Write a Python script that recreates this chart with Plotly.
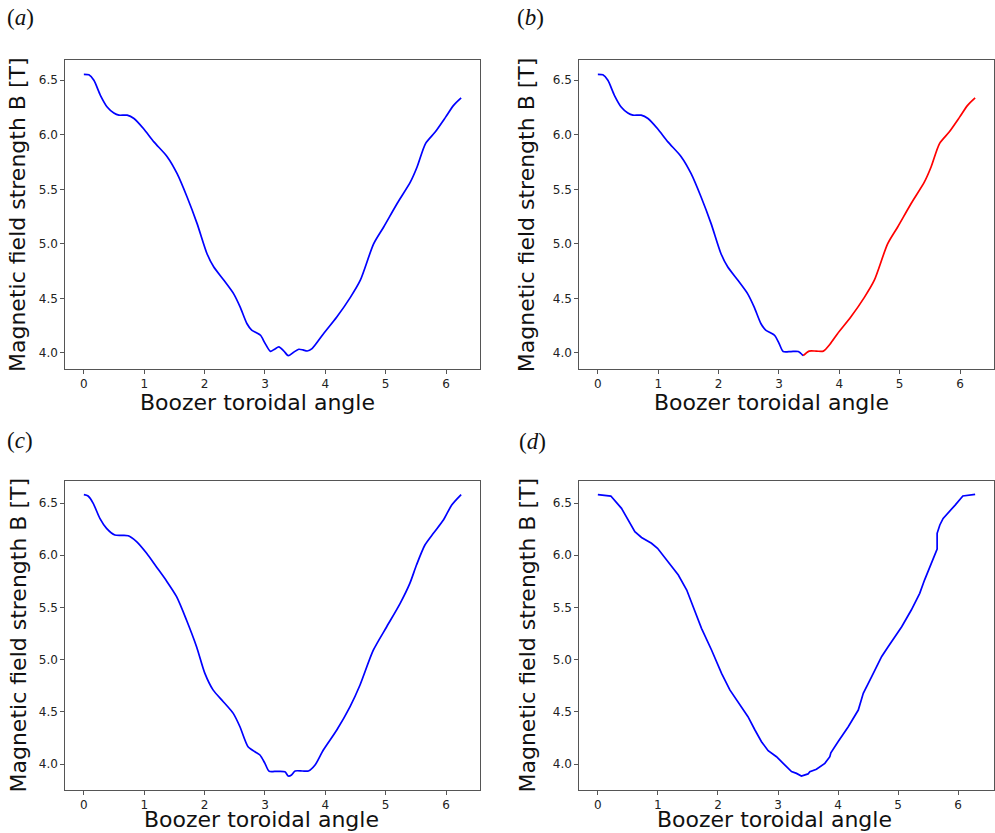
import plotly.graph_objects as go

# ---------------- data ----------------
# (a)
a_x = [0, 0.083, 0.166, 0.276, 0.386, 0.497, 0.58, 0.717, 0.83, 0.99, 1.16, 1.38,
       1.545, 1.71, 1.876, 2.04, 2.15, 2.32, 2.48, 2.59, 2.70, 2.78, 2.86, 2.93,
       3.0, 3.09, 3.16, 3.23, 3.31, 3.386, 3.47, 3.56, 3.63, 3.70, 3.78, 3.97,
       4.19, 4.415, 4.58, 4.80, 4.967, 5.19, 5.41, 5.52, 5.66, 5.82, 5.99, 6.125, 6.25]
a_y = [6.555, 6.55, 6.50, 6.36, 6.255, 6.20, 6.18, 6.18, 6.15, 6.056, 5.935, 5.80,
       5.644, 5.43, 5.186, 4.91, 4.79, 4.666, 4.544, 4.42, 4.27, 4.21, 4.185, 4.16,
       4.09, 4.015, 4.035, 4.055, 4.02, 3.975, 4.005, 4.034, 4.028, 4.018, 4.04, 4.177,
       4.33, 4.51, 4.667, 5.0, 5.155, 5.37, 5.568, 5.705, 5.92, 6.026, 6.16, 6.27, 6.338]

# (b) blue part and red part
b_blue_x = [0, 0.083, 0.166, 0.276, 0.386, 0.497, 0.58, 0.717, 0.83, 0.99, 1.16, 1.38,
            1.545, 1.71, 1.876, 2.04, 2.15, 2.32, 2.48, 2.59, 2.70, 2.78, 2.86, 2.93,
            3.0, 3.07, 3.20, 3.32, 3.40]
b_blue_y = [6.555, 6.55, 6.50, 6.36, 6.255, 6.20, 6.18, 6.18, 6.15, 6.056, 5.935, 5.80,
            5.644, 5.43, 5.186, 4.91, 4.79, 4.666, 4.544, 4.42, 4.27, 4.21, 4.185, 4.16,
            4.09, 4.013, 4.013, 4.013, 3.975]
b_red_x = [3.40, 3.50, 3.62, 3.735, 3.845, 3.97, 4.19, 4.415, 4.58, 4.80, 4.967, 5.19,
           5.41, 5.52, 5.66, 5.82, 5.99, 6.125, 6.25]
b_red_y = [3.975, 4.017, 4.017, 4.017, 4.08, 4.177, 4.33, 4.51, 4.667, 5.0, 5.155, 5.37,
           5.568, 5.705, 5.92, 6.026, 6.16, 6.27, 6.338]

# (c)
c_x = [0, 0.07, 0.155, 0.265, 0.376, 0.514, 0.735, 0.873, 1.04, 1.20, 1.37, 1.536,
       1.70, 1.867, 2.005, 2.14, 2.31, 2.475, 2.586, 2.72, 2.834, 2.917, 3.0, 3.07,
       3.20, 3.33, 3.386, 3.44, 3.50, 3.62, 3.72, 3.83, 3.967, 4.19, 4.41, 4.575,
       4.795, 5.017, 5.24, 5.40, 5.51, 5.65, 5.79, 5.956, 6.094, 6.25]
c_y = [6.58, 6.567, 6.497, 6.353, 6.257, 6.193, 6.187, 6.13, 6.018, 5.89, 5.753, 5.603,
       5.38, 5.124, 4.868, 4.71, 4.597, 4.485, 4.357, 4.166, 4.118, 4.086, 4.006, 3.93,
       3.93, 3.926, 3.885, 3.895, 3.933, 3.933, 3.933, 3.99, 4.134, 4.326, 4.55, 4.757,
       5.09, 5.315, 5.539, 5.73, 5.906, 6.098, 6.21, 6.337, 6.48, 6.58]

# (d)
d_x = [0, 0.216, 0.394, 0.616, 0.727, 0.893, 0.994, 1.17, 1.34, 1.48, 1.615, 1.726,
       1.893, 2.06, 2.198, 2.393, 2.50, 2.616, 2.725, 2.836, 2.975, 3.086, 3.225, 3.308,
       3.39, 3.50, 3.53, 3.64, 3.78, 3.863, 3.88, 4.0, 4.17, 4.337, 4.42, 4.56, 4.727,
       4.834, 5.06, 5.22, 5.36, 5.44, 5.556, 5.64, 5.65, 5.65, 5.695, 5.75, 5.83, 5.95,
       6.078, 6.283]
d_y = [6.58, 6.567, 6.449, 6.225, 6.17, 6.114, 6.066, 5.938, 5.81, 5.667, 5.459, 5.30,
       5.092, 4.868, 4.71, 4.55, 4.453, 4.326, 4.214, 4.128, 4.07, 4.006, 3.927, 3.91,
       3.885, 3.905, 3.927, 3.95, 4.006, 4.07, 4.108, 4.214, 4.357, 4.517, 4.677, 4.837, 5.03,
       5.124, 5.315, 5.475, 5.635, 5.762, 5.922, 6.04, 6.06, 6.21, 6.29, 6.353, 6.40, 6.48,
       6.567, 6.583]

x_ticks = [0, 1, 2, 3, 4, 5, 6]
y_ticks = [4.0, 4.5, 5.0, 5.5, 6.0, 6.5]
x_title = "Boozer toroidal angle"
y_title = "Magnetic field strength B [T]"
panel_labels = ["(<i>a</i>)", "(<i>b</i>)", "(<i>c</i>)", "(<i>d</i>)"]

# ---------------- figure ----------------
W, H = 995, 833
BLUE = "#0000ff"
RED = "#ff0000"
smooth = dict(width=1.7, shape="spline", smoothing=0.7)

fig = go.Figure()
fig.add_trace(go.Scatter(x=a_x, y=a_y, mode="lines", line=dict(color=BLUE, **smooth),
                         xaxis="x", yaxis="y"))
fig.add_trace(go.Scatter(x=b_blue_x, y=b_blue_y, mode="lines", line=dict(color=BLUE, **smooth),
                         xaxis="x2", yaxis="y2"))
fig.add_trace(go.Scatter(x=b_red_x, y=b_red_y, mode="lines", line=dict(color=RED, **smooth),
                         xaxis="x2", yaxis="y2"))
fig.add_trace(go.Scatter(x=c_x, y=c_y, mode="lines", line=dict(color=BLUE, **smooth),
                         xaxis="x3", yaxis="y3"))
fig.add_trace(go.Scatter(x=d_x, y=d_y, mode="lines", line=dict(color=BLUE, width=1.7),
                         xaxis="x4", yaxis="y4"))

def px_x(p):
    return p / W

def px_y(p):
    return 1 - p / H

frame = "#555555"
tickfont = dict(family="DejaVu Sans", size=12, color="#222222")

def xaxis(dom, rng, anchor):
    return dict(domain=dom, range=rng, anchor=anchor, tickvals=x_ticks, ticks="outside",
                ticklen=3.5, tickwidth=1, tickcolor=frame, showline=True, mirror=True,
                linecolor=frame, linewidth=1.3, showgrid=False, zeroline=False,
                tickfont=tickfont)

def yaxis(dom, rng, anchor):
    return dict(domain=dom, range=rng, anchor=anchor, tickvals=y_ticks, tickformat=".1f",
                ticks="outside", ticklen=3.5, tickwidth=1, tickcolor=frame, showline=True,
                mirror=True, linecolor=frame, linewidth=1.3, showgrid=False, zeroline=False,
                tickfont=tickfont)

xl = [px_x(65), px_x(480)]
xr = [px_x(579), px_x(994)]
yt = [px_y(369), px_y(60)]
yb = [px_y(790), px_y(481)]

rx = [-0.3125, 6.5625]
rxd = [-0.314, 6.597]
ry_top = [3.853, 6.686]
ry_bot = [3.751, 6.711]

fig.update_layout(
    width=W, height=H,
    margin=dict(l=0, r=0, t=0, b=0),
    paper_bgcolor="white", plot_bgcolor="white",
    showlegend=False,
    xaxis=xaxis(xl, rx, "y"), yaxis=yaxis(yt, ry_top, "x"),
    xaxis2=xaxis(xr, rx, "y2"), yaxis2=yaxis(yt, ry_top, "x2"),
    xaxis3=xaxis(xl, rx, "y3"), yaxis3=yaxis(yb, ry_bot, "x3"),
    xaxis4=xaxis(xr, rxd, "y4"), yaxis4=yaxis(yb, ry_bot, "x4"),
)

title_font = dict(family="DejaVu Sans", size=22, color="#111111")
label_font = dict(family="Liberation Serif", size=23, color="#111111")

annots = []
# x titles
for cx, cy in [(257.5, 403), (771.7, 403), (261.5, 819), (774, 819)]:
    annots.append(dict(text=x_title, x=px_x(cx), y=px_y(cy), xref="paper", yref="paper",
                       xanchor="center", yanchor="middle", showarrow=False, font=title_font))
# y titles
for cx, cy in [(17.5, 214.5), (526.7, 214.5), (18, 635.5), (527, 635.5)]:
    annots.append(dict(text=y_title, x=px_x(cx), y=px_y(cy), xref="paper", yref="paper",
                       xanchor="center", yanchor="middle", textangle=-90, showarrow=False,
                       font=title_font))
# panel labels
for lab, (cx, cy) in zip(panel_labels, [(20, 17.5), (530, 17.5), (19.5, 440.5), (532, 441.7)]):
    annots.append(dict(text=lab, x=px_x(cx), y=px_y(cy), xref="paper", yref="paper",
                       xanchor="center", yanchor="middle", showarrow=False, font=label_font))

fig.update_layout(annotations=annots)

fig.write_html("out.html")
